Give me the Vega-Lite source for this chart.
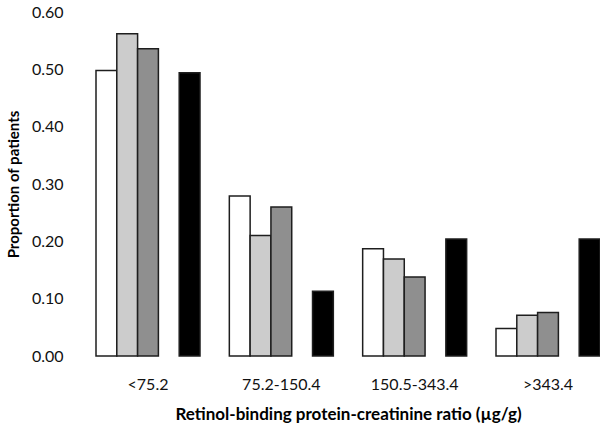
{
  "$schema": "https://vega.github.io/schema/vega-lite/v6.json",
  "autosize": {"type": "none"},
  "padding": {"left": 96, "top": 12, "right": 0, "bottom": 70},
  "width": 504,
  "height": 344,
  "background": "white",
  "config": {
    "view": {"stroke": null},
    "font": "Lato",
    "axis": {"labelFont": "Lato", "titleFont": "Lato", "labelColor": "#111", "titleColor": "#000"}
  },
  "data": {
    "values": [
      {"ratio": "<75.2", "series": "A", "proportion": 0.498},
      {"ratio": "<75.2", "series": "B", "proportion": 0.562},
      {"ratio": "<75.2", "series": "C", "proportion": 0.536},
      {"ratio": "<75.2", "series": "D", "proportion": 0.494},
      {"ratio": "75.2-150.4", "series": "A", "proportion": 0.279},
      {"ratio": "75.2-150.4", "series": "B", "proportion": 0.21},
      {"ratio": "75.2-150.4", "series": "C", "proportion": 0.26},
      {"ratio": "75.2-150.4", "series": "D", "proportion": 0.113},
      {"ratio": "150.5-343.4", "series": "A", "proportion": 0.187},
      {"ratio": "150.5-343.4", "series": "B", "proportion": 0.169},
      {"ratio": "150.5-343.4", "series": "C", "proportion": 0.138},
      {"ratio": "150.5-343.4", "series": "D", "proportion": 0.204},
      {"ratio": ">343.4", "series": "A", "proportion": 0.048},
      {"ratio": ">343.4", "series": "B", "proportion": 0.071},
      {"ratio": ">343.4", "series": "C", "proportion": 0.076},
      {"ratio": ">343.4", "series": "D", "proportion": 0.204}
    ]
  },
  "mark": {"type": "bar", "stroke": "#1e1e1e", "strokeWidth": 1.5},
  "encoding": {
    "x": {
      "field": "ratio",
      "type": "nominal",
      "sort": ["<75.2", "75.2-150.4", "150.5-343.4", ">343.4"],
      "scale": {"paddingInner": 0.22, "paddingOuter": 0},
      "axis": {
        "title": "Retinol-binding protein-creatinine ratio (µg/g)",
        "labelAngle": 0,
        "labelFontSize": 16,
        "titleFontSize": 17,
        "titleFontWeight": "bold",
        "domain": false,
        "ticks": false,
        "labelPadding": 20,
        "titlePadding": 14
      }
    },
    "xOffset": {
      "field": "series",
      "type": "nominal",
      "scale": {"domain": ["A", "B", "C", "gap", "D"], "paddingInner": 0, "paddingOuter": 0}
    },
    "y": {
      "field": "proportion",
      "type": "quantitative",
      "scale": {"domain": [0, 0.6], "nice": false},
      "axis": {
        "title": "Proportion of patients",
        "values": [0, 0.1, 0.2, 0.3, 0.4, 0.5, 0.6],
        "format": ".2f",
        "grid": false,
        "domain": false,
        "ticks": false,
        "labelFontSize": 16,
        "titleFontSize": 15,
        "titleFontWeight": "bold",
        "labelPadding": 33,
        "titlePadding": 10
      }
    },
    "color": {
      "field": "series",
      "type": "nominal",
      "scale": {"domain": ["A", "B", "C", "D"], "range": ["#ffffff", "#cccccc", "#8f8f8f", "#000000"]},
      "legend": null
    }
  }
}
